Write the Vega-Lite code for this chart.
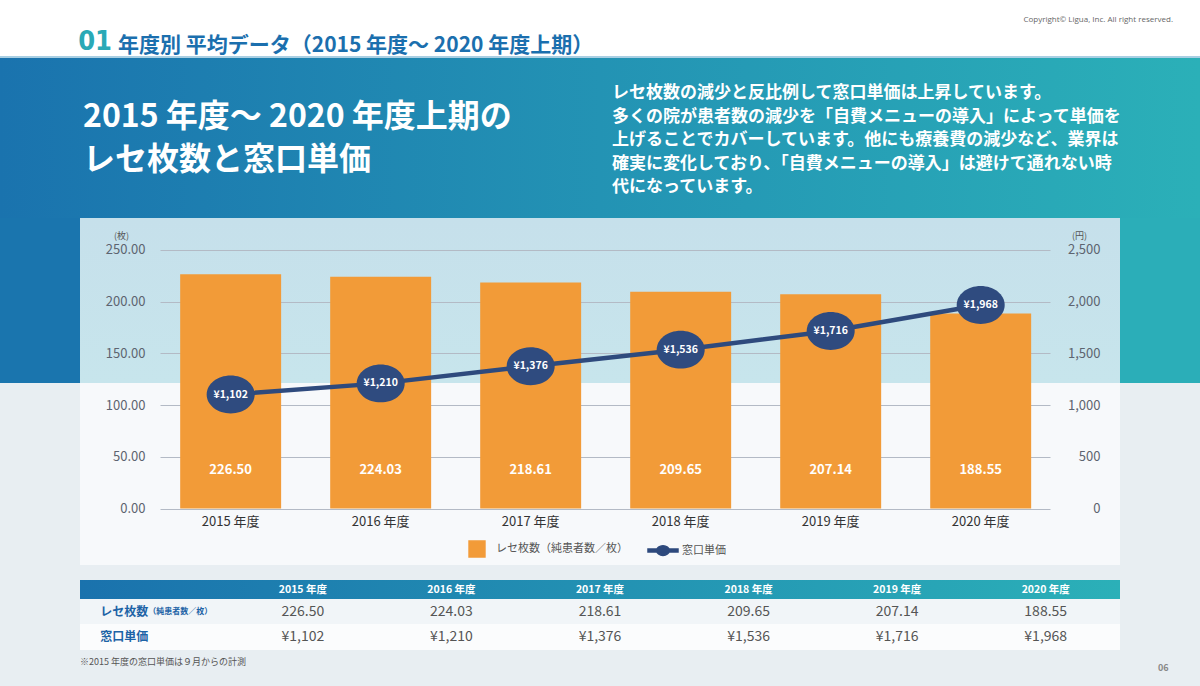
{
  "$schema": "https://vega.github.io/schema/vega-lite/v6.json",
  "background": "#e8eef2",
  "padding": 0,
  "spacing": 0,
  "config": {
    "view": {"stroke": null},
    "locale": {"number": {"decimal": ".", "thousands": ",", "grouping": [3], "currency": ["¥", ""]}},
    "font": "Noto Sans CJK JP",
    "title": {"font": "Noto Sans CJK JP", "frame": "group", "orient": "top", "baseline": "top"}
  },
  "datasets": {
    "main": [
      {"year": "2015 年度", "count": 226.50, "price": 1102},
      {"year": "2016 年度", "count": 224.03, "price": 1210},
      {"year": "2017 年度", "count": 218.61, "price": 1376},
      {"year": "2018 年度", "count": 209.65, "price": 1536},
      {"year": "2019 年度", "count": 207.14, "price": 1716},
      {"year": "2020 年度", "count": 188.55, "price": 1968}
    ]
  },
  "vconcat": [
    {
      "hconcat": [
        {"width": 112, "height": 56, "view": {"fill": "#ffffff"}, "data": {"values": []}, "mark": "rect",
         "title": {"text": "01", "anchor": "end", "offset": -56, "font": "DejaVu Sans Condensed", "fontSize": 27, "fontWeight": "bold", "color": "#2aa9b6"}},
        {"width": 788, "height": 56, "view": {"fill": "#ffffff"}, "data": {"values": []}, "mark": "rect",
         "title": {"text": "年度別 平均データ（2015 年度～ 2020 年度上期）", "anchor": "start", "dx": 6, "offset": -56, "fontSize": 21, "fontWeight": "bold", "color": "#1b6fae"}},
        {"width": 300, "height": 56, "view": {"fill": "#ffffff"}, "data": {"values": []}, "mark": "rect",
         "title": {"text": "Copyright© Ligua, Inc. All right reserved.", "anchor": "end", "dx": -27, "offset": -24, "fontSize": 8, "fontWeight": "normal", "color": "#666666", "font": "Open Sans"}}
      ],
      "spacing": 0
    },
    {"width": 1200, "height": 2, "view": {"fill": "#a9cfe3"}, "data": {"values": []}, "mark": "rect"},
    {
      "hconcat": [
        {"width": 600, "height": 160, "data": {"values": []}, "mark": "rect",
         "view": {"fill": {"gradient": "linear", "x1": 0, "y1": 0, "x2": 1, "y2": 0, "stops": [{"offset": 0, "color": "#1a73ae"}, {"offset": 1, "color": "#2393b4"}]}},
         "title": {"text": ["2015 年度～ 2020 年度上期の", "レセ枚数と窓口単価"], "anchor": "start", "dx": 83, "offset": -119, "fontSize": 32, "lineHeight": 43, "fontWeight": "bold", "color": "#ffffff"}},
        {"width": 600, "height": 160, "data": {"values": []}, "mark": "rect",
         "view": {"fill": {"gradient": "linear", "x1": 0, "y1": 0, "x2": 1, "y2": 0, "stops": [{"offset": 0, "color": "#2393b4"}, {"offset": 1, "color": "#2bb0b8"}]}},
         "title": {"text": ["レセ枚数の減少と反比例して窓口単価は上昇しています。", "多くの院が患者数の減少を「自費メニューの導入」によって単価を", "上げることでカバーしています。他にも療養費の減少など、業界は", "確実に変化しており、「自費メニューの導入」は避けて通れない時", "代になっています。"], "anchor": "start", "dx": 12, "offset": -138, "fontSize": 17, "lineHeight": 23.5, "fontWeight": "bold", "color": "#ffffff"}}
      ],
      "spacing": 0
    },
    {
      "hconcat": [
        {"width": 80, "height": 347, "data": {"values": []}, "mark": "rect",
         "view": {"fill": {"gradient": "linear", "x1": 0, "y1": 0, "x2": 0, "y2": 1, "stops": [{"offset": 0, "color": "#1a75ae"}, {"offset": 0.4755, "color": "#1a75ae"}, {"offset": 0.476, "color": "#e8eef2"}, {"offset": 1, "color": "#e8eef2"}]}}},
        {
          "width": 1040, "height": 347,
          "view": {"fill": {"gradient": "linear", "x1": 0, "y1": 0, "x2": 0, "y2": 1, "stops": [{"offset": 0, "color": "#c6e0eb"}, {"offset": 0.4755, "color": "#c7e5ec"}, {"offset": 0.476, "color": "#f7f9fb"}, {"offset": 1, "color": "#f7f9fb"}]}},
          "data": {"name": "main"},
          "encoding": {
            "x": {"field": "year", "type": "nominal", "sort": null,
                  "scale": {"paddingInner": 0.327, "paddingOuter": 0.63, "align": 0.53},
                  "axis": {"orient": "bottom", "offset": -56.5, "domain": false, "ticks": false, "labelPadding": 7, "labelFontSize": 13, "labelColor": "#333333", "labelAngle": 0, "title": null, "labelFont": "Noto Sans CJK JP"}}
          },
          "layer": [
            {
              "encoding": {
                "y": {"field": "count", "type": "quantitative",
                      "scale": {"domain": [-54.6, 280.9], "nice": false, "zero": false},
                      "axis": {"orient": "left", "offset": -80, "values": [0, 50, 100, 150, 200, 250], "format": ".2f", "domain": false, "grid": false, "ticks": true, "tickSize": -890, "tickColor": "#b3bac5", "tickWidth": 1, "labelPadding": 905, "labelFontSize": 13, "labelColor": "#5d6470", "labelFont": "Noto Sans CJK JP", "title": "(枚)", "titleAngle": 0, "titleX": -39, "titleY": 17, "titleFontSize": 9, "titleFontWeight": "normal", "titleColor": "#555555", "titleAlign": "center", "titleBaseline": "middle"}}
              },
              "layer": [
                {"mark": {"type": "bar"},
                 "encoding": {"color": {"datum": "レセ枚数（純患者数／枚）", "type": "nominal",
                   "scale": {"domain": ["レセ枚数（純患者数／枚）", "窓口単価"], "range": ["#f29b38", "#2e4a7d"]},
                   "legend": {"orient": "none", "legendX": 461, "legendY": 533, "padding": 0, "direction": "horizontal", "title": null, "symbolSize": 900, "labelOffset": 3, "labelFont": "Noto Sans CJK JP", "labelFontSize": 11, "labelColor": "#555555", "columnPadding": 17,
                     "encode": {"symbols": {"update": {
                       "shape": {"signal": "datum.value === '窓口単価' ? 'M-1,-0.1H1V0.1H-1Z M-0.42,0A0.42,0.32 0 1,1 0.42,0A0.42,0.32 0 1,1 -0.42,0Z' : 'M-0.53,-0.53H0.53V0.53H-0.53Z'"},
                       "fill": {"signal": "datum.value === '窓口単価' ? '#2e4a7d' : '#f29b38'"},
                       "stroke": {"value": "transparent"},
                       "opacity": {"value": 1}}}}}}}},
                {"mark": {"type": "text", "color": "#ffffff", "fontSize": 13, "fontWeight": "bold", "font": "Noto Sans CJK JP", "baseline": "middle"},
                 "encoding": {"y": {"datum": 37, "type": "quantitative"}, "text": {"field": "count", "type": "quantitative", "format": ".2f"}}}
              ]
            },
            {
              "encoding": {
                "y": {"field": "price", "type": "quantitative",
                      "scale": {"domain": [-546, 2809], "nice": false, "zero": false},
                      "axis": {"orient": "right", "offset": -70, "values": [0, 500, 1000, 1500, 2000, 2500], "format": ",.0f", "domain": false, "grid": false, "ticks": false, "labelAlign": "right", "labelPadding": 50, "labelFontSize": 13, "labelColor": "#5d6470", "labelFont": "Noto Sans CJK JP", "title": "(円)", "titleAngle": 0, "titleX": 29, "titleY": 17, "titleFontSize": 9, "titleFontWeight": "normal", "titleColor": "#555555", "titleAlign": "center", "titleBaseline": "middle"}}
              },
              "layer": [
                {"mark": {"type": "line", "strokeWidth": 4.5},
                 "encoding": {"color": {"datum": "窓口単価", "type": "nominal"}}},
                {"mark": {"type": "point", "shape": "M-1,0A1,0.79 0 1,1 1,0A1,0.79 0 1,1 -1,0Z", "size": 2304, "filled": true, "opacity": 1, "color": "#2f4b7f"}},
                {"mark": {"type": "text", "color": "#ffffff", "fontSize": 10.5, "fontWeight": "bold", "font": "Noto Sans CJK JP", "baseline": "middle"},
                 "encoding": {"text": {"field": "price", "type": "quantitative", "format": "$,"}}}
              ]
            }
          ],
          "resolve": {"scale": {"y": "independent"}}
        },
        {"width": 80, "height": 347, "data": {"values": []}, "mark": "rect",
         "view": {"fill": {"gradient": "linear", "x1": 0, "y1": 0, "x2": 0, "y2": 1, "stops": [{"offset": 0, "color": "#2baeb8"}, {"offset": 0.4755, "color": "#2baeb8"}, {"offset": 0.476, "color": "#e8eef2"}, {"offset": 1, "color": "#e8eef2"}]}}}
      ],
      "spacing": 0
    },
    {"width": 1200, "height": 15, "view": {"fill": "#e8eef2"}, "data": {"values": []}, "mark": "rect"},
    {
      "hconcat": [
        {"width": 80, "height": 70, "view": {"fill": "#e8eef2"}, "data": {"values": []}, "mark": "rect"},
        {
          "vconcat": [
            {"width": 1040, "height": 19,
             "view": {"fill": {"gradient": "linear", "x1": 0, "y1": 0, "x2": 1, "y2": 0, "stops": [{"offset": 0, "color": "#1a72ad"}, {"offset": 1, "color": "#2bb0b8"}]}},
             "data": {"name": "main"},
             "mark": {"type": "text", "color": "#ffffff", "fontSize": 10.5, "fontWeight": "bold", "font": "Noto Sans CJK JP", "baseline": "middle"},
             "encoding": {
               "x": {"field": "year", "type": "nominal", "scale": {"domain": ["項目", "2015 年度", "2016 年度", "2017 年度", "2018 年度", "2019 年度", "2020 年度"], "paddingInner": 0, "paddingOuter": 0}, "axis": null},
               "text": {"field": "year", "type": "nominal"}
             }},
            {"width": 1040, "height": 25, "view": {"fill": "#f1f5f8"},
             "layer": [
               {"data": {"name": "main"},
                "mark": {"type": "text", "color": "#555555", "fontSize": 14, "font": "Noto Sans CJK JP", "baseline": "middle"},
                "encoding": {
                  "x": {"field": "year", "type": "nominal", "scale": {"domain": ["項目", "2015 年度", "2016 年度", "2017 年度", "2018 年度", "2019 年度", "2020 年度"], "paddingInner": 0, "paddingOuter": 0}, "axis": null},
                  "text": {"field": "count", "type": "quantitative", "format": ".2f"}}},
               {"data": {"values": [{"col": "項目", "label": "レセ枚数"}]},
                "mark": {"type": "text", "color": "#1d63a6", "fontSize": 12, "fontWeight": "bold", "font": "Noto Sans CJK JP", "baseline": "middle", "align": "left", "dx": -54},
                "encoding": {"x": {"field": "col", "type": "nominal"}, "text": {"field": "label"}}},
               {"data": {"values": [{"col": "項目", "label": "（純患者数／枚）"}]},
                "mark": {"type": "text", "color": "#1d63a6", "fontSize": 8, "fontWeight": "bold", "font": "Noto Sans CJK JP", "baseline": "middle", "align": "left", "dx": -6},
                "encoding": {"x": {"field": "col", "type": "nominal"}, "text": {"field": "label"}}}
             ]},
            {"width": 1040, "height": 26, "view": {"fill": "#fbfcfd"},
             "layer": [
               {"data": {"name": "main"},
                "mark": {"type": "text", "color": "#555555", "fontSize": 14, "font": "Noto Sans CJK JP", "baseline": "middle"},
                "encoding": {
                  "x": {"field": "year", "type": "nominal", "scale": {"domain": ["項目", "2015 年度", "2016 年度", "2017 年度", "2018 年度", "2019 年度", "2020 年度"], "paddingInner": 0, "paddingOuter": 0}, "axis": null},
                  "text": {"field": "price", "type": "quantitative", "format": "$,"}}},
               {"data": {"values": [{"col": "項目", "label": "窓口単価"}]},
                "mark": {"type": "text", "color": "#1d63a6", "fontSize": 12, "fontWeight": "bold", "font": "Noto Sans CJK JP", "baseline": "middle", "align": "left", "dx": -54},
                "encoding": {"x": {"field": "col", "type": "nominal"}, "text": {"field": "label"}}}
             ]}
          ],
          "spacing": 0
        },
        {"width": 80, "height": 70, "view": {"fill": "#e8eef2"}, "data": {"values": []}, "mark": "rect"}
      ],
      "spacing": 0
    },
    {
      "hconcat": [
        {"width": 1100, "height": 36, "view": {"fill": "#e8eef2"}, "data": {"values": []}, "mark": "rect",
         "title": {"text": "※2015 年度の窓口単価は９月からの計測", "anchor": "start", "dx": 80, "offset": -17, "fontSize": 9, "fontWeight": "normal", "color": "#555555"}},
        {"width": 100, "height": 36, "view": {"fill": "#e8eef2"}, "data": {"values": []}, "mark": "rect",
         "title": {"text": "06", "anchor": "start", "dx": 58, "offset": -23, "fontSize": 9, "fontWeight": "bold", "color": "#888888"}}
      ],
      "spacing": 0
    }
  ]
}
